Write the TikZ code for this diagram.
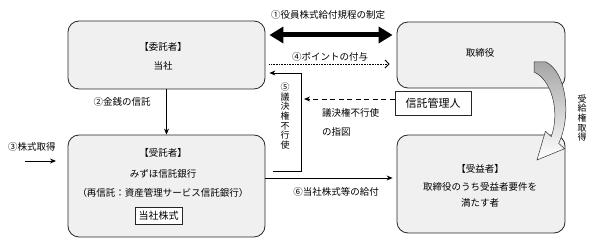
\documentclass[tikz,border=0pt]{standalone}
\usepackage{fontspec}
\setmainfont{Noto Sans CJK JP}
\usetikzlibrary{arrows.meta}

\begin{document}
\begin{tikzpicture}[x=1pt, y=1pt, >={Stealth[length=6pt,width=5pt]},
  every node/.style={font=\fontsize{9.5}{11}\selectfont, inner sep=0pt},
  box/.style={draw=black!85, line width=0.8pt, rounded corners=11pt, fill=black!6},
  tag/.style={draw=black!85, line width=0.8pt, fill=white},
  link/.style={line width=0.9pt},
  vtext/.style={align=center, font=\fontsize{9}{9.6}\selectfont}]
  \useasboundingbox (0,0) rectangle (598,238);
  % boxes
  \node[box, minimum width=197pt, minimum height=68pt] (itaku) at (166.5,183) {};
  \node[box, minimum width=168pt, minimum height=66pt] (torishimari) at (481,183) {};
  \node[box, minimum width=197pt, minimum height=102pt] (jutaku) at (166.5,52) {};
  \node[box, minimum width=168pt, minimum height=98pt] (jueki) at (481,54) {};
  \node[tag, minimum width=76pt, minimum height=24pt,
    font=\fontsize{11}{13}\selectfont] (kanri) at (433,135) {信託管理人};
  \node[tag, minimum width=47pt, minimum height=17pt,
    font=\fontsize{10}{12}\selectfont] (kabu) at (158.5,22.5) {当社株式};
  % texts in boxes
  \node (itaku1) at (163,191) {【委託者】};
  \node (itaku2) at (163,172) {当社};
  \node (tori1) at (480,185) {取締役};
  \node (jutaku1) at (163,85) {【受託者】};
  \node (jutaku2) at (163,64) {みずほ信託銀行};
  \node (jutaku3) at (163,45) {（再信託：資産管理サービス信託銀行）};
  \node (jueki1) at (480,69) {【受益者】};
  \node (jueki2) at (480,51) {取締役のうち受益者要件を};
  \node (jueki3) at (480,35) {満たす者};
  % labels
  \node (l1) at (328,223) {①役員株式給付規程の制定};
  \node (l4) at (330,181) {④ポイントの付与};
  \node[vtext] (l5) at (285,122) {⑤\\議\\決\\権\\不\\行\\使};
  \node[anchor=west] (l5a) at (322,125) {議決権不行使};
  \node[anchor=west] (l5b) at (322,106) {の指図};
  \node (l6) at (336,46) {⑥当社株式等の給付};
  \node (l2) at (122,136) {②金銭の信託};
  \node (l3) at (32,91) {③株式取得};
  \node[vtext] (lr) at (582,120) {受\\給\\権\\取\\得};
  % connectors
  \coordinate (vtop) at (301,165);
  \coordinate (vbot) at (301,67);
  \coordinate (dtip) at (304,139);
  \coordinate (s3a) at (25,77);
  \coordinate (s3b) at (56,77);
  \draw[line width=5pt, {Triangle[length=14pt,width=16pt]}-{Triangle[length=14pt,width=16pt]}]
    ([shift={(4,20)}]itaku.east) -- ([shift={(-4,20)}]torishimari.west);
  \draw[link, dash pattern=on 0.8pt off 0.8pt, -{Straight Barb[length=4pt,width=8pt]}]
    ([shift={(4,-9)}]itaku.east) -- ([shift={(-7,-9)}]torishimari.west);
  \draw[link, ->] ([shift={(8,15)}]jutaku.east) -- (vbot) -- (vtop)
    -- ([shift={(4,-18)}]itaku.east);
  \draw[link, dash pattern=on 5pt off 3.5pt, ->] (kanri.west |- dtip) -- (dtip);
  \draw[link, ->] ([yshift=8pt]jutaku.east) -- ([shift={(-4,6)}]jueki.west);
  \draw[link, ->] (itaku.south) -- (jutaku.north);
  \draw[link, ->] (s3a) -- (s3b);
  % curved arrow
  \draw[draw=black!80, line width=0.5pt, top color=black!35, bottom color=white]
    (534,176) -- (546,176) .. controls (566,166) and (572,123) .. (558.7,94.6)
    -- (564.6,89.3) -- (537,78) -- (545.4,106.7) -- (551.3,101.4)
    .. controls (560,126) and (552,158) .. (534,166) -- cycle;
\end{tikzpicture}
\end{document}
